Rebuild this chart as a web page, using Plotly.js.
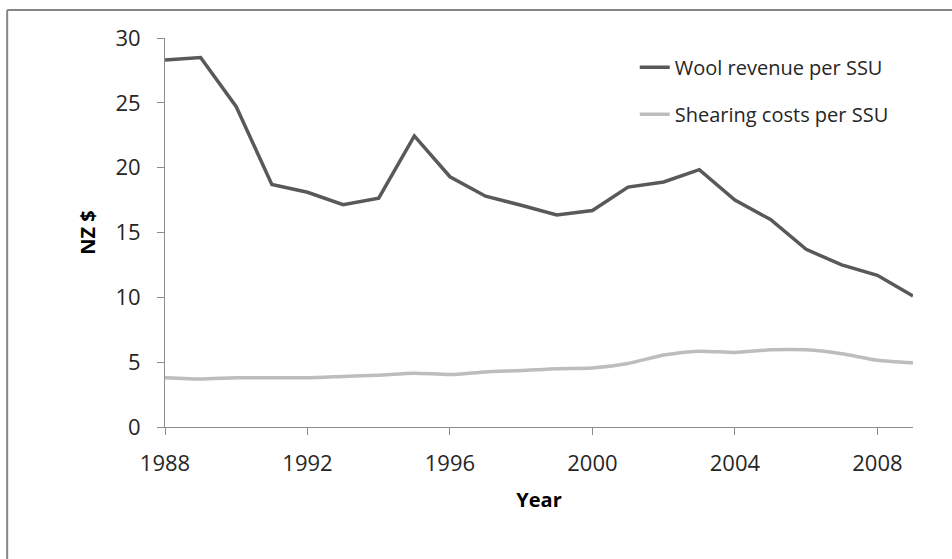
<!DOCTYPE html>
<html>
<head>
<meta charset="utf-8">
<script src="https://cdn.plot.ly/plotly-3.0.1.min.js"></script>
<style>html,body{margin:0;padding:0;background:#fff;}#chart{width:952px;height:559px;}</style>
</head>
<body>
<div id="chart"></div>
<script>
const years = [1988,1989,1990,1991,1992,1993,1994,1995,1996,1997,1998,1999,2000,2001,2002,2003,2004,2005,2006,2007,2008,2009];
const woolRevenue = [28.3,28.5,24.7,18.7,18.1,17.15,17.65,22.45,19.3,17.8,17.1,16.35,16.7,18.5,18.9,19.85,17.5,16.0,13.7,12.5,11.7,10.1];
const shearingCosts = [3.8,3.7,3.8,3.8,3.8,3.9,4.0,4.15,4.05,4.25,4.35,4.5,4.55,4.9,5.55,5.85,5.75,5.95,5.95,5.65,5.15,4.95];
const seriesNames = ["Wool revenue per SSU","Shearing costs per SSU"];
const xTicks = [1988,1992,1996,2000,2004,2008];
const yTicks = [0,5,10,15,20,25,30];

const font = "Open Sans, DejaVu Sans, sans-serif";
const data = [
  {x: years, y: woolRevenue, name: seriesNames[0], legendgroup: "a", type: "scatter", mode: "lines",
   line: {color: "#595959", width: 3.5}},
  {x: years, y: shearingCosts, name: seriesNames[1], legendgroup: "b", type: "scatter", mode: "lines",
   line: {color: "#bdbdbd", width: 3.5, shape: "spline", smoothing: 0.6}}
];
const layout = {
  width: 952, height: 559,
  margin: {l: 165, r: 39, t: 38, b: 132},
  paper_bgcolor: "#fff", plot_bgcolor: "#fff",
  font: {family: font, size: 20, color: "#262626"},
  showlegend: true,
  legend: {x: 0.628, xanchor: "left", y: 0.975, yanchor: "top", bgcolor: "rgba(0,0,0,0)",
           font: {family: font, size: 20, color: "#262626"}, tracegroupgap: 18},
  xaxis: {range: [1988, 2009], tickvals: xTicks, ticktext: xTicks.map(String),
          showgrid: false, zeroline: false, showline: true, linecolor: "#8c8c8c", linewidth: 1,
          ticks: "outside", ticklen: 7, tickcolor: "#8c8c8c", ticklabelstandoff: 10,
          tickfont: {family: font, size: 22, color: "#262626"},
          title: {text: "<b>Year</b>", font: {family: font, size: 20, color: "#000"}, standoff: 16}},
  yaxis: {range: [0, 30], tickvals: yTicks, showgrid: false, zeroline: false,
          showline: true, linecolor: "#8c8c8c", linewidth: 1,
          ticks: "outside", ticklen: 7, tickcolor: "#8c8c8c", ticklabelstandoff: 12,
          tickfont: {family: font, size: 22, color: "#262626"},
          title: {text: "<b>NZ $</b>", font: {family: font, size: 20, color: "#000"}, standoff: 14}},
  shapes: [
    {type: "line", xref: "paper", yref: "paper", x0: -0.211, x1: 1.2, y0: 1.072, y1: 1.072,
     line: {color: "#868686", width: 2}},
    {type: "line", xref: "paper", yref: "paper", x0: -0.211, x1: -0.211, y0: 1.072, y1: -0.5,
     line: {color: "#868686", width: 2}}
  ]
};
Plotly.newPlot("chart", data, layout, {displayModeBar: false, staticPlot: true});
</script>
</body>
</html>
